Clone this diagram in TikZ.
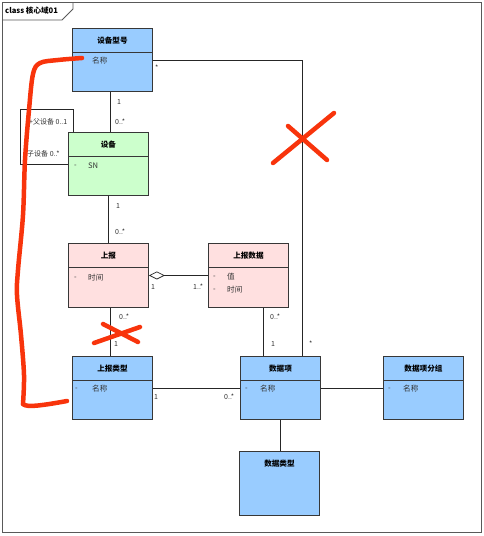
\documentclass[tikz,border=0pt]{standalone}
\usepackage{fontspec}
\setmainfont{Noto Sans CJK SC}
\newfontfamily\dashfont{Liberation Sans}
\usetikzlibrary{arrows.meta,calc}
\definecolor{clsblue}{RGB}{153,204,255}
\definecolor{clsgreen}{RGB}{204,255,204}
\definecolor{clspink}{RGB}{255,224,224}
\definecolor{redmark}{RGB}{248,52,12}
\definecolor{edgecol}{RGB}{55,55,55}
\begin{document}
\begin{tikzpicture}[x=1pt,y=-1pt,
  cls/.style={draw=edgecol, line width=0.9pt, minimum width=80pt, minimum height=63pt, inner sep=0pt, anchor=north west},
  ttl/.style={font=\fontsize{7.6}{8}\selectfont\bfseries, anchor=center, inner sep=0pt},
  attr/.style={font=\fontsize{7.6}{8}\selectfont, anchor=west, inner sep=0pt, text=black!80},
  dsh/.style={font=\dashfont\fontsize{7.6}{8}\selectfont, anchor=west, inner sep=0pt, text=black!70},
  mult/.style={font=\fontsize{7}{7}\selectfont, anchor=west, inner sep=0pt, text=black!80},
  sepline/.style={draw=edgecol, line width=0.9pt},
  conn/.style={draw=black!85, line width=0.7pt},
  redstroke/.style={draw=redmark, line width=4.5pt, line cap=round, line join=round}]
\useasboundingbox (0,0) rectangle (484,536);
\fill[white] (0,0) rectangle (484,536);
% frame
\draw[draw=black!65, line width=0.8pt] (2.5,2.5) rectangle (481,532);
\draw[draw=black!65, line width=0.8pt] (2.5,20) -- (62,20) -- (73,9) -- (73,2.5);
\node[font=\fontsize{7.6}{8}\selectfont\bfseries, anchor=west, inner sep=0pt] (frametitle) at (5,11) {class 核心域01};

% classes
\node[cls, fill=clsblue] (sbxh) at (72,28) {};
\node[cls, fill=clsgreen] (sb) at (68,132) {};
\node[cls, fill=clspink, minimum height=64pt] (sbb) at (68,243) {};
\node[cls, fill=clspink, minimum height=64pt] (sbsj) at (208,243) {};
\node[cls, fill=clsblue] (sblx) at (72,356) {};
\node[cls, fill=clsblue] (sjx) at (240,356) {};
\node[cls, fill=clsblue] (sjxfz) at (383,356) {};
\node[cls, fill=clsblue, minimum height=64pt] (sjlx) at (239,451) {};

% separators
\foreach \n in {sbxh,sb,sbb,sbsj,sblx,sjx,sjxfz}{
  \draw[sepline] ($(\n.north west)+(0,24)$) -- ($(\n.north east)+(0,24)$);
}

% titles
\node[ttl] (t1) at ($(sbxh.north)+(0,13)$) {设备型号};
\node[ttl] (t2) at ($(sb.north)+(0,13)$) {设备};
\node[ttl] (t3) at ($(sbb.north)+(0,13)$) {上报};
\node[ttl] (t4) at ($(sbsj.north)+(0,13)$) {上报数据};
\node[ttl] (t5) at ($(sblx.north)+(0,13)$) {上报类型};
\node[ttl] (t6) at ($(sjx.north)+(0,13)$) {数据项};
\node[ttl] (t7) at ($(sjxfz.north)+(0,13)$) {数据项分组};
\node[ttl] (t8) at ($(sjlx.north)+(0,13)$) {数据类型};

% attributes
\node[attr] (a1) at (92,61) {名称};
\node[dsh] (a2d) at (74,166) {-};
\node[attr] (a2) at (88,166) {SN};
\node[dsh] (a3d) at (74,278) {-};
\node[attr] (a3) at (88,278) {时间};
\node[dsh] (a4d) at (213,277) {-};
\node[attr] (a4) at (227,277) {值};
\node[dsh] (a5d) at (213,290) {-};
\node[attr] (a5) at (227,290) {时间};
\node[dsh] (a6d) at (75,389) {-};
\node[attr] (a6) at (92,389) {名称};
\node[dsh] (a7d) at (245,389) {-};
\node[attr] (a7) at (260,389) {名称};
\node[dsh] (a8d) at (388,389) {-};
\node[attr] (a8) at (403,389) {名称};

% connectors
\draw[conn] (sbxh.east) -| ([xshift=22pt]sjx.north);
\draw[conn] ([xshift=-2pt]sbxh.south) -- ([xshift=2pt]sb.north);
\coordinate (lpA) at (20,109);
\draw[conn] ([xshift=5pt]sb.north west) |- (lpA) |- (sb.west);
\draw[conn] (sb.south) -- (sbb.north);
\draw[conn, {Diamond[open, length=16pt, width=8pt, line width=0.7pt]}-] (sbb.east) -- (sbsj.west);
\draw[conn] ([xshift=2pt]sbb.south) -- ([xshift=-2pt]sblx.north);
\draw[conn] ([xshift=15pt]sbsj.south) -- ([xshift=15pt]sbsj.south |- sjx.north);
\draw[conn] (sblx.east) -- (sjx.west);
\draw[conn] (sjx.east) -- (sjxfz.west);
\draw[conn] (sjx.south) -- (sjx.south |- sjlx.north);

% multiplicities
\node[mult] (m1) at (155,68) {*};
\node[mult] (m2) at (309,344) {*};
\node[mult] (m3) at (117,102) {1};
\node[mult] (m4) at (115,122) {0..*};
\node[mult] (m5) at (29,122) {+父设备 0..1};
\node[mult] (m6) at (27,154) {子设备 0..*};
\node[mult] (m7) at (116,206) {1};
\node[mult] (m8) at (115,232) {0..*};
\node[mult] (m9) at (151,287) {1};
\node[mult] (m10) at (193,287) {1..*};
\node[mult] (m11) at (119,317) {0..*};
\node[mult] (m12) at (114,344) {1};
\node[mult] (m13) at (270,317) {0..*};
\node[mult] (m14) at (271,344) {1};
\node[mult] (m15) at (154,397) {1};
\node[mult] (m16) at (224,397) {0..*};

% red hand marks
\draw[redstroke] plot[smooth, tension=0.55] coordinates {(82,58) (58,60) (40,63) (33,74) (29,110) (25,160) (23,215) (18,270) (17,295) (21,335) (24,375) (23,404)};
\draw[redstroke] (23,404) .. controls (26,408) and (45,405) .. (67,401);
\draw[redstroke] (273,163) -- (334,113);
\draw[redstroke] (288,126) -- (327,160);
\draw[redstroke] (103,324) -- (138,342);
\draw[redstroke] (94,343) -- (140,327);
\end{tikzpicture}
\end{document}
